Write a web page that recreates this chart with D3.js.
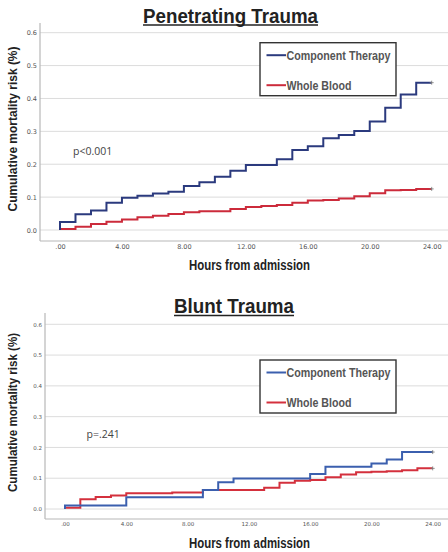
<!DOCTYPE html>
<html>
<head>
<meta charset="utf-8">
<script src="https://cdn.jsdelivr.net/npm/d3@7"></script>
<style>
  body { margin: 0; background: #fff; }
  svg { display: block; }
  .narrow { font-family: "Liberation Sans Narrow", "Arial Narrow", "Liberation Sans", Arial, sans-serif; font-weight: bold; }
</style>
</head>
<body>
<svg id="chart" width="448" height="552"></svg>
<script>
// step start times (hours); each curve holds its value until the next hour
const hours = [0, 1, 2, 3, 4, 5, 6, 7, 8, 9, 10, 11, 12, 13, 14, 15, 16, 17, 18, 19, 20, 21, 22, 23];
const endHour = 24;

const penComponent = [0.024, 0.048, 0.059, 0.083, 0.098, 0.104, 0.111, 0.116, 0.134, 0.145, 0.162, 0.180,
                      0.198, 0.198, 0.215, 0.243, 0.255, 0.279, 0.289, 0.301, 0.330, 0.372, 0.412, 0.448];
const penWhole     = [0.003, 0.010, 0.018, 0.025, 0.032, 0.039, 0.043, 0.049, 0.054, 0.057, 0.057, 0.064,
                      0.070, 0.073, 0.076, 0.083, 0.090, 0.091, 0.096, 0.103, 0.112, 0.121, 0.122, 0.125];

const bluntComponent = [0.011, 0.011, 0.011, 0.011, 0.038, 0.038, 0.038, 0.038, 0.038, 0.062, 0.087, 0.099,
                        0.099, 0.099, 0.099, 0.099, 0.114, 0.137, 0.137, 0.137, 0.148, 0.161, 0.185, 0.185];
const bluntWhole     = [0.004, 0.032, 0.039, 0.044, 0.051, 0.051, 0.051, 0.054, 0.054, 0.062, 0.062, 0.062,
                        0.062, 0.069, 0.085, 0.092, 0.094, 0.103, 0.112, 0.119, 0.121, 0.123, 0.126, 0.132];

const yTicks = [0, 0.1, 0.2, 0.3, 0.4, 0.5, 0.6];
const xTicks = [0, 4, 8, 12, 16, 20, 24];
const xTickLabels = [".00", "4.00", "8.00", "12.00", "16.00", "20.00", "24.00"];
const seriesNames = ["Component Therapy", "Whole Blood"];

const svg = d3.select("#chart");

function toPoints(vals) {
    let pts = [[0, 0]];
    hours.forEach((h, i) => pts.push([h, vals[i]]));
    pts.push([endHour, vals[vals.length - 1]]);
    return pts;
}

function drawChart(c) {
    let g = svg.append("g");
    let x = d3.scaleLinear().domain([0, 24]).range([c.x0, c.x1]);
    let y = d3.scaleLinear().domain([0, 0.6]).range([c.y0, c.y1]);

    // grid
    g.selectAll(".grid").data(yTicks).enter().append("line")
        .attr("x1", c.axisX).attr("x2", 448)
        .attr("y1", d => y(d)).attr("y2", d => y(d))
        .attr("stroke", "#dcdcdc").attr("stroke-width", 1);

    // axis lines
    g.append("line").attr("x1", c.axisX).attr("x2", c.axisX)
        .attr("y1", c.axisTop).attr("y2", c.axisY)
        .attr("stroke", "#b8b8b8").attr("stroke-width", 1.2);
    g.append("line").attr("x1", c.axisX).attr("x2", 448)
        .attr("y1", c.axisY).attr("y2", c.axisY)
        .attr("stroke", "#b8b8b8").attr("stroke-width", 1.2);

    // y tick labels
    let ya = g.append("g").attr("transform", "translate(" + c.yLabX + ",0)")
        .call(d3.axisLeft(y).tickValues(yTicks).tickSize(0).tickPadding(0).tickFormat(d3.format(".1f")));
    ya.select(".domain").remove();
    ya.selectAll("text").attr("fill", "#555").style("font-family", "DejaVu Sans, sans-serif")
        .style("font-size", c.tickFont + "px");

    // x tick labels
    let xa = g.append("g").attr("transform", "translate(0," + c.xLabY + ")")
        .call(d3.axisBottom(x).tickValues(xTicks).tickSize(0).tickPadding(0)
            .tickFormat((d, i) => xTickLabels[i]));
    xa.select(".domain").remove();
    xa.selectAll("text").attr("fill", "#555").style("font-family", "DejaVu Sans, sans-serif")
        .style("font-size", c.tickFont + "px");

    // step lines
    let line = d3.line().curve(d3.curveStepAfter)
        .x(d => x(d[0])).y(d => y(d[1]));
    [c.whole, c.component].forEach((vals, i) => {
        let col = i === 0 ? c.red : c.blue;
        g.append("path").datum(toPoints(vals))
            .attr("d", line).attr("fill", "none")
            .attr("stroke", col).attr("stroke-width", 2);
        // censor mark at the end
        let ex = x(endHour), ey = y(vals[vals.length - 1]);
        g.append("path").attr("d", "M" + (ex - 2) + "," + ey + "h4M" + ex + "," + (ey - 2) + "v4")
            .attr("stroke", "#777").attr("stroke-width", 0.8);
    });

    // title with underline
    g.append("text").attr("class", "narrow")
        .attr("x", c.titleX).attr("y", c.titleY)
        .attr("text-anchor", "middle").attr("font-size", 21)
        .attr("textLength", c.titleW).attr("lengthAdjust", "spacingAndGlyphs")
        .attr("fill", "#222").text(c.title);
    g.append("line").attr("x1", c.titleX - c.titleW / 2).attr("x2", c.titleX + c.titleW / 2)
        .attr("y1", c.titleY + 2.5).attr("y2", c.titleY + 2.5)
        .attr("stroke", "#222").attr("stroke-width", 1.6);

    // axis titles
    g.append("text").attr("class", "narrow")
        .attr("x", 249.5).attr("y", c.xTitleY)
        .attr("text-anchor", "middle").attr("font-size", 14)
        .attr("textLength", 121).attr("lengthAdjust", "spacingAndGlyphs")
        .attr("fill", "#222").text("Hours from admission");
    g.append("text").attr("class", "narrow")
        .attr("transform", "translate(17," + c.yTitleMid + ") rotate(-90)")
        .attr("text-anchor", "middle").attr("font-size", 13)
        .attr("textLength", c.yTitleW).attr("lengthAdjust", "spacingAndGlyphs")
        .attr("fill", "#222").text("Cumulative mortality risk (%)");

    // p value
    g.append("text").attr("x", c.pX).attr("y", c.pY)
        .attr("font-size", 10.5).attr("fill", "#444")
        .style("font-family", "'Open Sans', 'Liberation Sans', sans-serif")
        .text(c.pText);

    // legend
    let lg = g.append("g").attr("transform", "translate(260," + c.legY + ")");
    lg.append("rect").attr("x", 0).attr("y", 0).attr("width", 136).attr("height", 53)
        .attr("fill", "#fff").attr("stroke", "#333").attr("stroke-width", 1.4);
    let items = lg.selectAll(".legend").data(seriesNames).enter().append("g")
        .attr("transform", (d, i) => "translate(0," + (12.5 + i * 30) + ")");
    items.append("line").attr("x1", 6.5).attr("x2", 26)
        .attr("stroke", (d, i) => i === 0 ? c.blue : c.red).attr("stroke-width", 2);
    items.append("text").attr("class", "narrow")
        .attr("x", 26.5).attr("dy", "0.36em").attr("font-size", 13.5)
        .attr("textLength", (d, i) => i === 0 ? 104 : 65).attr("lengthAdjust", "spacingAndGlyphs")
        .attr("fill", "#555").text(d => d);
}

drawChart({
    title: "Penetrating Trauma", titleX: 230.5, titleY: 22.5, titleW: 175,
    x0: 60, x1: 431.7, y0: 230, y1: 32.7,
    axisX: 40, axisTop: 23, axisY: 241,
    yLabX: 37, xLabY: 244, tickFont: 6.5,
    xTitleY: 270, yTitleMid: 129, yTitleW: 165,
    component: penComponent, whole: penWhole,
    blue: "#2b3a7e", red: "#cc2b3b",
    pX: 73, pY: 154.5, pText: "p<0.001",
    legY: 42.7
});

drawChart({
    title: "Blunt Trauma", titleX: 234, titleY: 313, titleW: 120,
    x0: 65, x1: 432.7, y0: 509, y1: 324.3,
    axisX: 45, axisTop: 313, axisY: 519,
    yLabX: 42, xLabY: 522.5, tickFont: 5.5,
    xTitleY: 547.5, yTitleMid: 412.5, yTitleW: 159,
    component: bluntComponent, whole: bluntWhole,
    blue: "#3b5fae", red: "#d4303d",
    pX: 86.5, pY: 437.5, pText: "p=.241",
    legY: 360
});
</script>
</body>
</html>
